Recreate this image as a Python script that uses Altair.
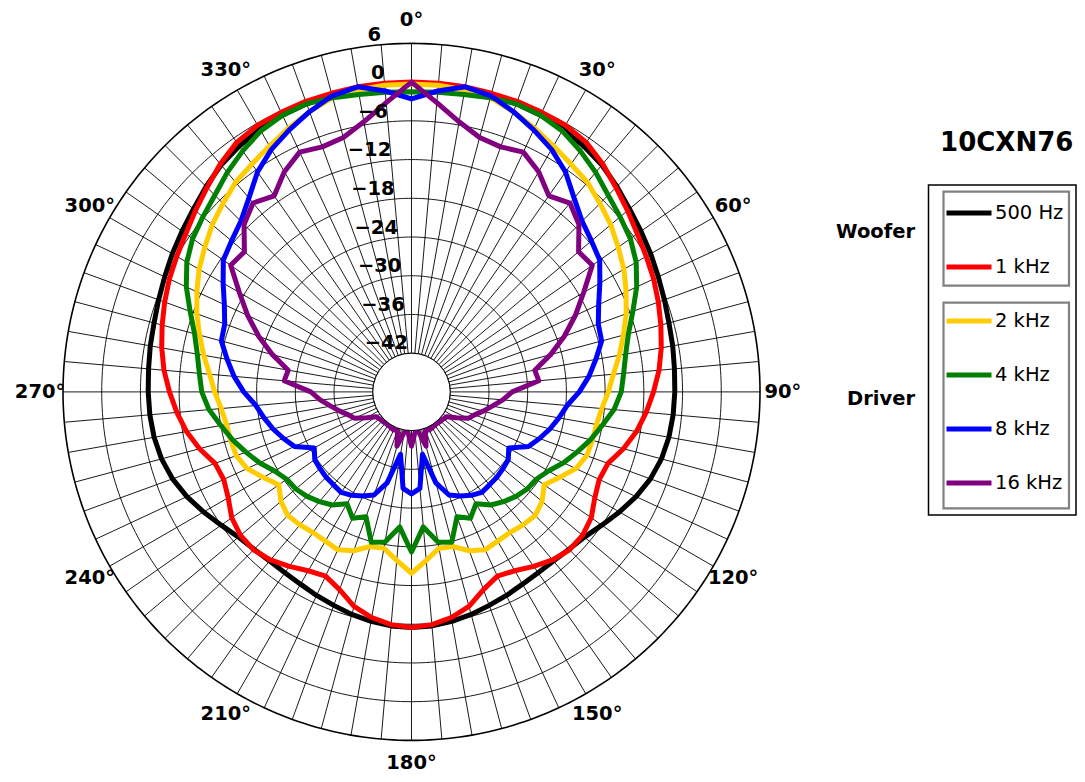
import altair as alt
import pandas as pd

# ---------------- data (dB, normalised, every 5 degrees, 0..355) ----------------
angles = list(range(0, 360, 5))

db_500hz = [-0.2, -0.2, -0.3, -0.4, -0.5, -0.7, -1.0, -1.5, -2.1, -3.0, -3.9, -4.6,
            -5.2, -5.8, -6.3, -6.7, -6.9, -7.1, -7.2, -7.3, -7.5, -7.9, -8.6, -9.6,
            -10.8, -12.0, -13.0, -13.5, -13.8, -13.8, -13.6, -13.2, -12.8, -12.3, -11.9, -11.6,
            -11.5, -11.6, -11.9, -12.3, -12.8, -13.2, -13.6, -13.8, -13.8, -13.5, -13.0, -12.0,
            -10.8, -9.6, -8.6, -7.9, -7.5, -7.3, -7.2, -7.1, -6.9, -6.7, -6.3, -5.8,
            -5.2, -4.6, -3.9, -3.0, -2.1, -1.5, -1.0, -0.7, -0.5, -0.4, -0.3, -0.2]

db_1khz = [0.0, 0.0, 0.0, -0.1, -0.1, -0.2, -0.3, -0.8, -1.9, -3.2, -4.3, -5.3,
           -6.0, -6.6, -7.3, -8.0, -8.7, -9.5, -10.5, -11.5, -12.6, -14.0, -15.6, -15.9,
           -15.2, -14.0, -13.4, -13.4, -14.0, -15.0, -16.0, -16.5, -15.4, -13.6, -12.5, -11.8,
           -11.5, -11.8, -12.5, -13.6, -15.4, -16.5, -16.0, -15.0, -14.0, -13.4, -13.4, -14.0,
           -15.2, -15.9, -15.6, -14.0, -12.6, -11.5, -10.5, -9.5, -8.7, -8.0, -7.3, -6.6,
           -6.0, -5.3, -4.3, -3.2, -1.9, -0.8, -0.3, -0.2, -0.1, -0.1, 0.0, 0.0]

db_2khz = [-0.3, -0.3, -0.5, -0.8, -1.8, -2.9, -4.0, -4.9, -5.6, -6.7, -7.7, -8.9,
           -10.0, -11.3, -12.6, -14.0, -15.3, -16.6, -17.5, -18.4, -18.9, -19.0, -19.1, -19.9,
           -21.5, -22.9, -21.6, -20.9, -21.1, -21.4, -21.3, -21.0, -21.8, -23.2, -23.4, -21.8,
           -19.9, -21.8, -23.4, -23.2, -21.8, -21.0, -21.3, -21.4, -21.1, -20.9, -21.6, -22.9,
           -21.5, -19.9, -19.1, -19.0, -18.9, -18.4, -17.5, -16.6, -15.3, -14.0, -12.6, -11.3,
           -10.0, -8.9, -7.7, -6.7, -5.6, -4.9, -4.0, -2.9, -1.8, -0.8, -0.5, -0.3]

db_4khz = [-1.5, -1.4, -1.2, -0.8, -0.5, -0.7, -1.3, -2.4, -3.6, -4.9, -5.8, -6.6,
           -7.8, -9.5, -11.5, -13.2, -14.3, -15.0, -15.5, -16.5, -18.0, -19.3, -20.7, -22.0,
           -23.5, -24.4, -24.6, -25.1, -25.8, -26.6, -28.0, -26.4, -27.4, -23.9, -24.4, -27.0,
           -23.2, -27.0, -24.4, -23.9, -27.4, -26.4, -28.0, -26.6, -25.8, -25.1, -24.6, -24.4,
           -23.5, -22.0, -20.7, -19.3, -18.0, -16.5, -15.5, -15.0, -14.3, -13.2, -11.5, -9.5,
           -7.8, -6.6, -5.8, -4.9, -3.6, -2.4, -1.3, -0.7, -0.5, -0.8, -1.2, -1.4]

db_8khz = [-2.6, -1.2, 0.0, -0.5, -1.8, -3.2, -4.6, -6.4, -8.8, -10.6, -11.6, -12.4,
           -14.3, -16.0, -17.2, -17.5, -19.0, -20.4, -22.0, -23.8, -24.8, -25.8, -26.9, -28.0,
           -30.6, -29.7, -29.5, -29.3, -29.2, -29.0, -29.5, -30.2, -31.0, -33.4, -38.2, -33.0,
           -32.2, -33.0, -38.2, -33.4, -31.0, -30.2, -29.5, -29.0, -29.2, -29.3, -29.5, -29.7,
           -30.6, -28.0, -26.9, -25.8, -24.8, -23.8, -22.0, -20.4, -19.0, -17.5, -17.2, -16.0,
           -14.3, -12.4, -11.6, -10.6, -8.8, -6.4, -4.6, -3.2, -1.8, -0.5, 0.0, -1.2]

db_16khz = [0.0, -3.0, -5.5, -7.2, -7.6, -7.0, -8.6, -10.9, -9.8, -11.3, -14.2, -13.8,
            -17.2, -20.0, -22.8, -25.7, -28.6, -28.2, -32.4, -33.8, -35.3, -36.5, -37.6, -38.3,
            -40.0, -41.3, -41.5, -41.6, -41.7, -41.7, -41.6, -41.5, -41.7, -39.3, -41.7, -41.7,
            -39.6, -41.7, -41.7, -39.3, -41.7, -41.5, -41.6, -41.7, -41.7, -41.6, -41.5, -41.3,
            -40.0, -38.3, -37.6, -36.5, -35.3, -33.8, -32.4, -28.2, -28.6, -25.7, -22.8, -20.0,
            -17.2, -13.8, -14.2, -11.3, -9.8, -10.9, -8.6, -7.0, -7.6, -7.2, -5.5, -3.0]

series_names = ["500 Hz", "1 kHz", "2 kHz", "4 kHz", "8 kHz", "16 kHz"]
series_values = [db_500hz, db_1khz, db_2khz, db_4khz, db_8khz, db_16khz]
series_colors = ["#000000", "#ff0000", "#ffcc00", "#008000", "#0000ff", "#800080"]

ring_db = [-42, -36, -30, -24, -18, -12, -6, 0, 6]
ring_labels = ["\u221242", "\u221236", "\u221230", "\u221224", "\u221218",
               "\u221212", "\u22126", "0", "6"]
angle_ticks = list(range(0, 360, 30))
angle_tick_labels = [f"{a}\u00b0" for a in angle_ticks]
spoke_angles = list(range(0, 360, 5))

title_text = "10CXN76"
group_labels = ["Woofer", "Driver"]

# ---------------- geometry / style ----------------
R_CENTER = -48     # dB value at the centre of the polar axes
R_IN = -42         # inner limit (hole)
R_OUT = 6          # outer limit
SPAN = R_OUT - R_CENTER
W = 697
PX = W / (2 * SPAN)
FONT = "DejaVu Sans"
FS = 19.5
LABEL_R = 57.55    # radius (in axis units) of the angle labels
TOP = 35.4         # top padding; legend items are shifted with it
DY = TOP - 36

pscale = alt.Scale(domain=[-SPAN, SPAN], nice=False, zero=False)


def xy(chart, rexpr, aexpr, xn="x", yn="y"):
    return (chart
            .transform_calculate(**{xn: f"({rexpr}) * sin(({aexpr}) * PI / 180)"})
            .transform_calculate(**{yn: f"({rexpr}) * cos(({aexpr}) * PI / 180)"}))


# grid: spokes
spokes_df = pd.DataFrame({"angle": spoke_angles})
spokes = xy(xy(alt.Chart(spokes_df), f"{R_IN - R_CENTER}", "datum.angle", "x1", "y1"),
            f"{R_OUT - R_CENTER}", "datum.angle", "x2", "y2").mark_rule(
    color="black", strokeWidth=0.9).encode(
    x=alt.X("x1:Q", scale=pscale, axis=None),
    y=alt.Y("y1:Q", scale=pscale, axis=None),
    x2="x2:Q", y2="y2:Q")

# grid: rings (sampled circles)
ring_rows = [{"ring": d, "t": t} for d in ring_db for t in range(0, 360)]
rings_df = pd.DataFrame(ring_rows)
rings_base = xy(alt.Chart(rings_df), f"datum.ring - ({R_CENTER})", "datum.t")
rings = rings_base.transform_filter(f"datum.ring < {R_OUT}").mark_line(
    color="black", strokeWidth=0.9, interpolate="linear-closed").encode(
    x=alt.X("x:Q", scale=pscale, axis=None),
    y=alt.Y("y:Q", scale=pscale, axis=None),
    detail="ring:N", order="t:Q")
outer = rings_base.transform_filter(f"datum.ring == {R_OUT}").mark_line(
    color="black", strokeWidth=1.6, interpolate="linear-closed").encode(
    x=alt.X("x:Q", scale=pscale, axis=None),
    y=alt.Y("y:Q", scale=pscale, axis=None),
    detail="ring:N", order="t:Q")

# curves
rows = []
for name, vals in zip(series_names, series_values):
    for a, v in zip(angles, vals):
        rows.append({"series": name, "angle": a, "db": v})
curves_df = pd.DataFrame(rows)

legend = alt.Legend(orient="none", legendX=881, legendY=144 - DY, title=None,
                    symbolType="stroke", symbolStrokeWidth=5, symbolSize=2025,
                    labelFont=FONT, labelFontSize=FS, labelColor="black",
                    labelOffset=1, rowPadding=19, padding=0, offset=0,
                    labelLimit=300)
color = alt.Color("series:N", scale=alt.Scale(domain=series_names, range=series_colors),
                  legend=legend)

curve_layers = []
for name in series_names:
    c = xy(alt.Chart(curves_df).transform_filter(alt.datum.series == name),
           f"datum.db - ({R_CENTER})", "datum.angle").mark_line(
        strokeWidth=5, interpolate="linear-closed", strokeJoin="round").encode(
        x=alt.X("x:Q", scale=pscale, axis=None),
        y=alt.Y("y:Q", scale=pscale, axis=None),
        order=alt.Order("angle:Q"),
        color=color)
    curve_layers.append(c)

# hole in the middle
hole_df = pd.DataFrame({"db": [R_CENTER]})
hole = alt.Chart(hole_df).transform_calculate(x="0", y="0").mark_point(
    shape="circle", filled=True, fill="white", stroke="black", strokeWidth=1,
    opacity=1, size=(2 * (R_IN - R_CENTER) * PX) ** 2).encode(
    x=alt.X("x:Q", scale=pscale, axis=None),
    y=alt.Y("y:Q", scale=pscale, axis=None))

# angle labels
ang_df = pd.DataFrame({"angle": angle_ticks, "label": angle_tick_labels})
ang_text = xy(alt.Chart(ang_df), f"{LABEL_R}", "datum.angle").mark_text(
    font=FONT, fontSize=FS, fontWeight="bold", align="center", baseline="middle",
    color="black").encode(
    x=alt.X("x:Q", scale=pscale, axis=None),
    y=alt.Y("y:Q", scale=pscale, axis=None),
    text="label:N")

# radial labels
rl_df = pd.DataFrame({"db": ring_db, "label": ring_labels})
rl_text = xy(alt.Chart(rl_df), f"datum.db - ({R_CENTER})", "-5").mark_text(
    font=FONT, fontSize=FS, fontWeight="bold", align="right", baseline="bottom",
    color="black").encode(
    x=alt.X("x:Q", scale=pscale, axis=None),
    y=alt.Y("y:Q", scale=pscale, axis=None),
    text="label:N")

# legend decoration
one = pd.DataFrame({"k": [0]})


def box(x0, x1, y0, y1, col, sw):
    return alt.Chart(one).mark_rect(fill="transparent", stroke=col, strokeWidth=sw).encode(
        x=alt.value(x0), x2=alt.value(x1), y=alt.value(y0 - DY), y2=alt.value(y1 - DY))


outer_box = box(865.5, 1013, 141, 471, "black", 1.5)
box1 = box(880.5, 1006, 147.7, 241.7, "#808080", 2.2)
box2 = box(880.5, 1006, 258.7, 464.3, "#808080", 2.2)

title = alt.Chart(one).mark_text(font=FONT, fontSize=26, fontWeight="bold",
                                 align="center", baseline="middle", color="black").encode(
    x=alt.value(943.7), y=alt.value(98.7 - DY), text=alt.value(title_text))
woofer = alt.Chart(one).mark_text(font=FONT, fontSize=FS, fontWeight="bold",
                                  align="right", baseline="middle", color="black").encode(
    x=alt.value(852), y=alt.value(188 - DY), text=alt.value(group_labels[0]))
driver = alt.Chart(one).mark_text(font=FONT, fontSize=FS, fontWeight="bold",
                                  align="right", baseline="middle", color="black").encode(
    x=alt.value(852), y=alt.value(355 - DY), text=alt.value(group_labels[1]))

chart = alt.layer(
    spokes, rings, outer, *curve_layers, hole, ang_text, rl_text,
    outer_box, box1, box2, title, woofer, driver
).properties(
    width=W, height=W, autosize="none",
    padding={"left": 55, "top": TOP, "right": 317, "bottom": 766 - W - TOP},
    background="white"
).configure_view(stroke=None)

chart.save("out.html", embed_options={"renderer": "svg", "actions": False})
